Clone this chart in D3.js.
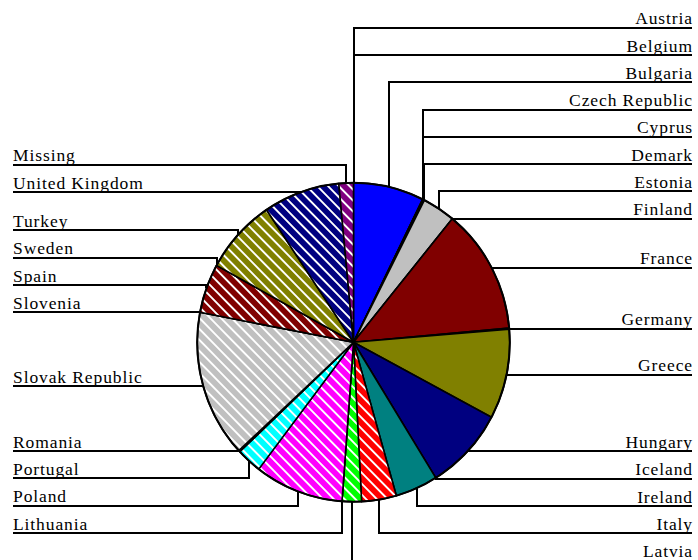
<!DOCTYPE html>
<html>
<head>
<meta charset="utf-8">
<script src="https://cdn.jsdelivr.net/npm/d3@7"></script>
<style>
  html, body { margin: 0; padding: 0; background: #fff; }
  svg { display: block; }
  text { font-family: "Liberation Serif", "Times New Roman", serif; font-size: 17.5px; letter-spacing: 0.9px; fill: #000; }
</style>
</head>
<body>
<svg id="chart" width="698" height="560"></svg>
<script>
// Share of cases by country (percent)
const categories = ["Austria", "Belgium", "Bulgaria", "Czech Republic", "Cyprus", "Demark", "Estonia",
  "Finland", "France", "Germany", "Greece", "Hungary", "Iceland", "Ireland", "Italy", "Latvia",
  "Lithuania", "Poland", "Portugal", "Romania", "Slovak Republic", "Slovenia", "Spain", "Sweden",
  "Turkey", "United Kingdom", "Missing"];
const values = [0, 0, 7.3, 0, 0.1, 0.1, 3.4, 0, 12.7, 0.1, 9.1, 8.4, 0, 4.4, 3.6, 2.0,
  0, 9.2, 2.6, 0.15, 14.9, 0, 5.0, 0, 7.6, 7.9, 1.5];
// Base palette, cycled; the second pass over it is drawn hatched
const palette = ["#ff0000", "#00ff00", "#0000ff", "#ff00ff", "#00ffff", "#ffff00", "#c0c0c0",
  "#808080", "#800000", "#008000", "#808000", "#000080", "#800080", "#008080"];

const svg = d3.select("#chart");
const W = 698;
const cx = 353.5, cy = 342.3, rx = 156.3, ry = 159.5;
const gap = 27.3;          // minimum vertical spacing between label lines
const rightEnd = 692, leftEnd = 13;

const data = categories.map((c, i) => ({
  name: c, value: values[i],
  color: palette[i % palette.length],
  hatched: i >= palette.length
}));

// hatch patterns: white diagonal stripes over the slice colour
const defs = svg.append("defs");
palette.forEach((col, k) => {
  const p = defs.append("pattern")
    .attr("id", "hatch" + k)
    .attr("patternUnits", "userSpaceOnUse")
    .attr("width", 7.6).attr("height", 7.6)
    .attr("patternTransform", "rotate(45)");
  p.append("rect").attr("width", 7.6).attr("height", 7.6).attr("fill", col);
  p.append("rect").attr("width", 7.6).attr("height", 1.9).attr("fill", "#fff");
});

const pie = d3.pie().sort(null).value(d => d.value);
const arcs = pie(data);
const arc = d3.arc().innerRadius(0).outerRadius(rx);

const g = svg.append("g")
  .attr("transform", `translate(${cx},${cy}) scale(1,${ry / rx})`);

g.selectAll("path.slice")
  .data(arcs)
  .join("path")
  .attr("class", "slice")
  .attr("d", arc)
  .attr("fill", d => d.data.hatched ? `url(#hatch${palette.indexOf(d.data.color)})` : d.data.color)
  .attr("stroke", "#000")
  .attr("stroke-width", 1.6)
  .attr("stroke-linejoin", "round");

g.append("ellipse")
  .attr("rx", rx).attr("ry", rx)
  .attr("fill", "none")
  .attr("stroke", "#000")
  .attr("stroke-width", 2);

// label anchors at the middle of each slice's outer edge
const items = arcs.map((a, i) => {
  const mid = (a.startAngle + a.endAngle) / 2;
  return {
    name: a.data.name, i,
    ax: cx + rx * Math.sin(mid),
    ay: cy - ry * Math.cos(mid),
    right: mid < Math.PI + 0.03
  };
});

function place(list) {
  const upper = list.filter(d => d.ay < cy);
  const lower = list.filter(d => d.ay >= cy);
  for (let k = upper.length - 1; k >= 0; k--) {
    const next = k < upper.length - 1 ? upper[k + 1].ly : Infinity;
    upper[k].ly = Math.min(upper[k].ay, next - gap);
  }
  for (let k = 0; k < lower.length; k++) {
    const prev = k > 0 ? lower[k - 1].ly : -Infinity;
    lower[k].ly = Math.max(lower[k].ay, prev + gap);
  }
}
const rightItems = items.filter(d => d.right);
const leftItems = items.filter(d => !d.right).reverse();
place(rightItems);
place(leftItems);

const lines = svg.append("g");
const labels = svg.append("g");

rightItems.concat(leftItems).forEach(d => {
  const endX = d.right ? rightEnd : leftEnd;
  lines.append("path")
    .attr("d", `M${d.ax},${d.ay}L${d.ax},${d.ly}L${endX},${d.ly}`)
    .attr("fill", "none")
    .attr("stroke", "#000")
    .attr("stroke-width", 2)
    .attr("shape-rendering", "crispEdges");
  labels.append("text")
    .attr("x", d.right ? rightEnd + 1 : leftEnd)
    .attr("y", d.ly - 3.4)
    .attr("text-anchor", d.right ? "end" : "start")
    .text(d.name);
});
</script>
</body>
</html>
